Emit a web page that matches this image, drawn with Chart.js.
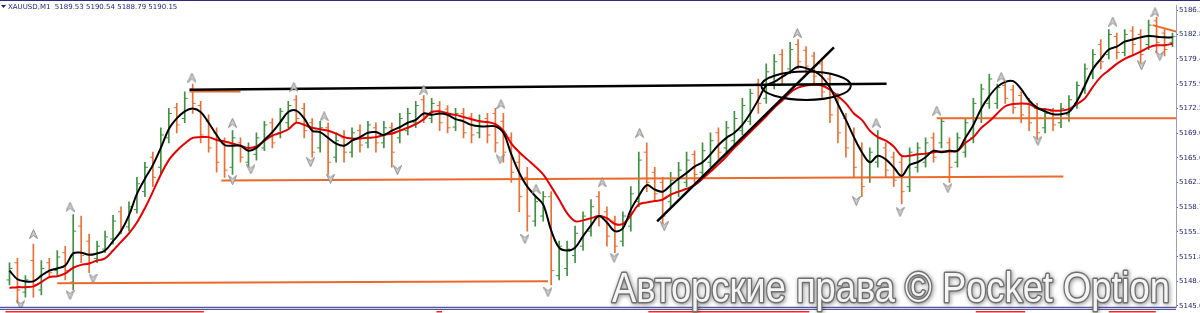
<!DOCTYPE html>
<html lang="ru">
<head>
<meta charset="UTF-8">
<title>XAUUSD M1</title>
<script src="https://cdn.jsdelivr.net/npm/chart.js@4.4.1/dist/chart.umd.min.js"></script>
<style>
  html, body { margin: 0; padding: 0; background: #fff; }
  #wrap { width: 1200px; height: 313px; }
</style>
</head>
<body>
<div id="wrap"><canvas id="chart"></canvas></div>
<script>
// M1 bars (one entry per bar)
const opens = [5148.6,5151.0,5146.9,5151.3,5147.2,5151.0,5149.9,5152.4,5148.3,5156.1,
  5154.0,5151.6,5152.9,5154.3,5158.1,5156.0,5158.4,5160.9,5165.7,5164.3,
  5168.4,5172.6,5171.1,5175.2,5172.9,5170.7,5169.1,5167.7,5164.3,5167.7,
  5165.0,5166.1,5167.0,5170.5,5169.1,5170.5,5173.7,5172.5,5170.5,5167.0,
  5169.8,5165.7,5168.4,5166.4,5169.4,5167.7,5169.8,5167.7,5169.8,5168.4,
  5169.4,5170.5,5173.7,5171.1,5172.9,5172.4,5169.9,5171.8,5171.3,5169.1,
  5171.1,5171.8,5170.7,5168.4,5165.0,5162.9,5156.8,5157.5,5160.2,5149.2,
  5150.2,5152.0,5153.3,5155.4,5160.2,5158.1,5156.8,5154.0,5156.1,5159.5,
  5166.4,5163.6,5162.2,5159.5,5160.9,5162.2,5166.1,5163.6,5165.0,5169.1,
  5167.0,5168.0,5169.4,5170.7,5175.9,5173.9,5175.9,5180.0,5178.0,5181.4,
  5180.6,5179.8,5178.7,5176.6,5173.9,5171.1,5169.1,5167.0,5162.9,5165.0,
  5167.0,5165.7,5165.0,5161.6,5164.3,5165.0,5168.4,5167.7,5167.7,5165.0,
  5166.4,5168.4,5171.1,5173.2,5173.2,5175.7,5175.1,5174.3,5173.2,5172.5,
  5169.8,5172.1,5170.5,5171.6,5173.2,5175.2,5177.3,5181.4,5180.0,5182.5,
  5180.3,5183.3,5182.8,5181.4,5184.7,5183.0,5181.7];
const highs = [5151.0,5151.6,5149.2,5153.6,5151.3,5151.6,5152.7,5153.3,5157.7,5157.5,
  5155.0,5154.0,5155.4,5157.6,5158.8,5159.5,5162.9,5165.0,5166.4,5169.8,
  5172.5,5173.2,5174.8,5175.9,5173.5,5171.6,5169.8,5168.4,5169.4,5168.4,
  5167.7,5169.1,5170.7,5171.1,5172.5,5173.5,5174.3,5173.2,5171.1,5170.7,
  5170.5,5169.1,5169.4,5169.8,5170.2,5170.7,5170.5,5170.7,5170.5,5171.8,
  5172.5,5173.5,5174.3,5173.9,5173.5,5172.9,5172.5,5172.5,5171.8,5171.6,
  5171.8,5172.5,5171.8,5169.1,5166.4,5164.3,5160.2,5160.9,5160.9,5154.0,
  5154.0,5156.1,5158.1,5159.8,5160.9,5158.8,5157.5,5158.1,5161.6,5166.4,
  5167.7,5164.3,5162.9,5163.6,5165.0,5166.4,5166.6,5167.7,5169.1,5169.8,
  5170.7,5172.1,5173.9,5175.2,5176.6,5178.7,5180.0,5180.7,5181.7,5182.1,
  5181.1,5180.3,5179.4,5177.3,5174.6,5171.8,5169.8,5167.7,5167.0,5169.4,
  5167.7,5166.4,5165.7,5167.0,5167.7,5168.4,5169.1,5171.1,5168.4,5169.1,
  5171.1,5173.9,5175.9,5177.3,5175.9,5176.1,5175.7,5174.8,5173.9,5173.2,
  5172.5,5172.5,5173.2,5174.3,5176.2,5178.7,5180.7,5182.1,5183.5,5183.0,
  5183.5,5183.9,5183.5,5184.8,5185.2,5183.5,5183.0];
const lows = [5147.9,5145.4,5146.2,5146.2,5146.5,5149.1,5149.2,5148.6,5147.2,5151.0,
  5149.6,5151.0,5152.4,5153.6,5155.0,5155.4,5157.9,5160.2,5161.6,5163.3,
  5167.7,5169.1,5170.5,5171.8,5167.7,5166.4,5163.6,5162.9,5163.3,5165.0,
  5164.3,5165.3,5166.6,5167.0,5168.4,5169.8,5170.5,5168.4,5165.7,5166.4,
  5163.3,5165.0,5165.0,5165.7,5166.4,5167.0,5166.4,5167.0,5164.3,5167.7,
  5168.8,5169.8,5170.5,5170.5,5169.4,5169.1,5169.4,5168.4,5167.7,5168.4,
  5167.7,5166.4,5165.0,5162.2,5158.1,5155.4,5156.1,5156.8,5147.9,5148.6,
  5149.2,5151.0,5152.7,5154.7,5156.1,5153.3,5152.4,5153.3,5155.4,5158.8,
  5160.9,5159.5,5156.1,5158.8,5160.2,5161.6,5162.2,5162.9,5164.3,5165.3,
  5166.4,5167.4,5168.8,5170.2,5171.8,5173.2,5175.2,5175.9,5177.3,5178.0,
  5177.3,5175.9,5173.9,5170.5,5167.7,5165.7,5162.9,5160.2,5162.2,5164.3,
  5162.9,5161.6,5159.2,5160.9,5163.6,5164.3,5165.0,5167.0,5162.2,5164.3,
  5165.7,5167.7,5170.5,5172.5,5172.5,5173.2,5171.8,5170.5,5169.4,5167.7,
  5169.1,5169.4,5169.8,5170.7,5172.5,5174.6,5176.6,5178.0,5179.4,5179.4,
  5179.8,5180.0,5178.4,5180.7,5180.3,5179.8,5181.1];
const closes = [5150.2,5147.2,5148.6,5147.9,5150.2,5149.6,5151.8,5149.9,5155.4,5152.0,
  5151.0,5153.3,5154.6,5156.8,5156.0,5158.8,5162.0,5164.3,5162.9,5168.8,
  5171.8,5170.2,5173.9,5173.2,5168.8,5167.0,5165.0,5163.9,5168.4,5165.7,
  5167.0,5168.4,5170.2,5167.7,5172.1,5172.9,5171.1,5169.4,5166.4,5169.8,
  5165.0,5168.0,5166.4,5169.1,5167.4,5170.2,5167.7,5169.8,5166.4,5171.1,
  5171.8,5172.9,5171.6,5173.2,5170.5,5169.8,5171.8,5169.1,5168.8,5170.7,
  5168.8,5167.7,5166.4,5163.6,5160.2,5157.5,5159.5,5160.2,5149.9,5153.3,
  5152.9,5155.1,5157.5,5158.8,5157.5,5154.7,5153.3,5157.5,5160.6,5165.3,
  5162.2,5160.6,5157.5,5162.5,5163.9,5165.3,5163.3,5166.6,5168.0,5166.4,
  5169.8,5171.1,5172.9,5174.6,5173.2,5177.6,5179.0,5177.0,5180.7,5179.0,
  5178.4,5177.0,5174.8,5171.6,5169.1,5167.0,5164.3,5161.6,5166.4,5168.4,
  5163.9,5162.5,5160.9,5166.4,5167.0,5167.7,5165.7,5170.7,5164.3,5168.4,
  5170.5,5173.2,5175.2,5176.6,5175.4,5173.9,5172.6,5171.6,5170.5,5169.1,
  5171.8,5170.2,5172.5,5173.7,5175.7,5178.0,5180.0,5179.0,5182.8,5180.3,
  5182.8,5181.4,5180.0,5184.1,5181.7,5180.7,5182.5];

// moving averages (black = fast, red = slow)
const maFast = [5149.9,5148.7,5148.4,5148.4,5149.2,5149.9,5150.2,5150.6,5152.3,5152.4,
  5152.1,5152.3,5152.7,5154.0,5155.4,5157.6,5160.6,5162.7,5164.6,5167.0,
  5169.6,5171.1,5172.1,5172.5,5172.0,5170.5,5168.8,5167.4,5167.3,5167.3,
  5166.6,5167.0,5168.1,5169.2,5170.6,5172.0,5172.2,5171.1,5169.4,5169.2,
  5168.4,5167.6,5167.3,5168.0,5168.5,5169.1,5169.2,5168.8,5169.4,5169.9,
  5170.5,5170.9,5171.8,5171.6,5171.8,5171.6,5171.0,5170.7,5170.2,5170.0,
  5170.0,5170.0,5169.1,5166.1,5163.5,5161.6,5160.3,5159.1,5155.5,5153.1,
  5152.7,5153.1,5154.7,5156.2,5157.5,5156.6,5155.4,5155.8,5158.4,5160.3,
  5161.8,5161.2,5160.9,5161.8,5162.7,5163.5,5164.4,5165.0,5166.1,5167.4,
  5168.4,5169.1,5170.2,5171.8,5173.7,5175.7,5176.2,5176.9,5177.6,5178.3,
  5178.1,5177.7,5176.9,5175.4,5173.1,5170.9,5168.5,5166.4,5165.0,5165.9,
  5165.4,5164.3,5163.1,5164.6,5165.0,5165.7,5166.6,5166.4,5166.6,5166.6,
  5168.4,5170.2,5172.5,5174.2,5175.5,5176.2,5176.3,5175.2,5173.6,5172.6,
  5172.1,5171.7,5171.7,5172.0,5173.5,5175.7,5178.0,5179.4,5180.7,5181.1,
  5181.8,5182.1,5182.4,5182.6,5182.5,5182.4,5182.4];
const maSlow = [5147.5,5147.6,5147.6,5147.7,5148.3,5149.0,5149.1,5149.5,5150.3,5150.7,
  5150.9,5151.3,5151.6,5152.7,5153.9,5155.1,5156.6,5158.6,5160.9,5163.3,
  5165.3,5166.6,5167.6,5168.4,5168.5,5168.5,5168.1,5167.9,5167.6,5167.3,
  5167.0,5167.2,5168.0,5168.7,5169.1,5169.6,5170.5,5170.2,5169.8,5169.6,
  5169.4,5169.0,5168.5,5168.3,5168.3,5168.4,5168.5,5168.8,5169.0,5169.4,
  5169.8,5170.3,5171.0,5172.0,5172.1,5171.8,5171.6,5171.3,5171.0,5170.7,
  5170.6,5170.3,5169.4,5167.6,5166.4,5165.4,5164.4,5163.3,5161.6,5159.8,
  5157.9,5156.8,5156.9,5157.2,5157.5,5157.2,5156.4,5156.4,5157.6,5159.1,
  5159.4,5159.6,5159.8,5160.5,5160.9,5161.3,5161.8,5162.7,5163.7,5164.7,
  5165.8,5167.0,5168.1,5169.2,5170.3,5171.4,5172.6,5173.6,5174.7,5175.4,
  5175.7,5175.8,5175.7,5175.1,5174.2,5173.2,5171.8,5170.9,5169.4,5168.5,
  5168.0,5167.2,5165.9,5165.9,5166.1,5166.2,5166.4,5166.5,5166.5,5166.6,
  5167.7,5168.5,5169.8,5170.7,5171.8,5172.8,5173.1,5173.2,5173.1,5172.5,
  5172.4,5172.2,5172.2,5172.4,5173.1,5173.9,5175.5,5176.9,5177.8,5178.7,
  5179.4,5179.9,5180.4,5181.0,5181.3,5181.3,5181.5];

// fractal arrows: bar position / price
const fractalUpX = [3.0,7.6,22.9,28.0,35.7,39.5,52.0,61.7,66.1,74.4,79.1,98.9,108.8,116.4,124.5,138.5,143.8];
const fractalUpY = [5155.0,5158.8,5176.8,5170.5,5175.5,5171.4,5175.1,5173.1,5161.3,5162.2,5169.1,5183.0,5170.5,5172.2,5176.9,5184.6,5185.9];
const fractalDownX = [1.4,7.6,10.5,28.0,30.3,37.8,40.3,48.7,61.6,64.7,67.6,75.9,82.2,106.3,111.8,117.8,129.1,142.1,144.4];
const fractalDownY = [5145.1,5146.5,5148.8,5162.5,5164.0,5165.0,5162.7,5163.9,5165.4,5154.3,5146.9,5151.7,5156.1,5159.6,5158.1,5161.4,5168.0,5178.5,5179.8];

// hand-drawn objects: [bar0, price0, bar1, price1]
const orangeLevels = [
  [26.6, 5162.45, 132.3, 5163.0],
  [6.0, 5148.15, 67.6, 5148.42],
  [116.4, 5171.14, 146.5, 5171.14],
  [143.5, 5184.1, 146.5, 5183.2],
  [22.6, 5174.85, 29.0, 5174.85]
];
const blackLines = [
  [22.6, 5175.1, 110.1, 5175.95],
  [81.3, 5156.77, 103.5, 5181.0]
];
const ellipse = [100.0, 5175.66, 5.62, 1.98]; // centre bar, centre price, half-width (bars), half-height (price)
const lowerMarks = [[-0.5, 24.4], [53.6, 54.3], [80.2, 100.4], [121.3, 127.5], [138.0, 143.9]];

const yTicks = [5145.0, 5148.4, 5151.8, 5155.3, 5158.7, 5162.2, 5165.6, 5169.0, 5172.5, 5175.9, 5179.4, 5182.8, 5186.2];
const headerText = 'XAUUSD,M1  5189.53 5190.54 5188.79 5190.15';
const watermark = 'Авторские права © Pocket Option';

const GREEN = '#3f913f';
const ORANGE = '#ec6f33';
const barColor = closes.map((c, i) => c >= opens[i] ? GREEN : ORANGE);

function arrowImg(up) {
  const c = document.createElement('canvas');
  c.width = 9; c.height = 10;
  const g = c.getContext('2d');
  if (!up) { g.translate(0, 10); g.scale(1, -1); }
  g.beginPath();
  g.moveTo(4.5, 0.5); g.lineTo(8.5, 9.5); g.lineTo(4.5, 6.5); g.lineTo(0.5, 9.5);
  g.closePath();
  g.fillStyle = '#cfcfcf'; g.fill();
  g.strokeStyle = '#8c8c8c'; g.lineWidth = 1; g.stroke();
  return c;
}

const segDataset = (seg, color, width, order) => ({
  type: 'line',
  data: [{ x: seg[0], y: seg[1] }, { x: seg[2], y: seg[3] }],
  borderColor: color, borderWidth: width, pointRadius: 0, order: order
});

const overlay = {
  id: 'overlay',
  afterDatasetsDraw(chart) {
    const { ctx, scales: { x, y } } = chart;
    const cx = x.getPixelForValue(ellipse[0]), cy = y.getPixelForValue(ellipse[1]);
    ctx.save();
    ctx.beginPath();
    ctx.ellipse(cx, cy, x.getPixelForValue(ellipse[0] + ellipse[2]) - cx,
      y.getPixelForValue(ellipse[1] - ellipse[3]) - cy, 0, 0, Math.PI * 2);
    ctx.lineWidth = 2; ctx.strokeStyle = '#000'; ctx.stroke();
    ctx.restore();
  },
  afterDraw(chart) {
    const { ctx, chartArea: a, scales: { x } } = chart;
    ctx.save();
    // frame lines
    ctx.strokeStyle = '#2b2b80'; ctx.lineWidth = 1;
    ctx.beginPath();
    ctx.moveTo(0, 0.5); ctx.lineTo(chart.width, 0.5);
    ctx.moveTo(0, a.bottom - 0.5); ctx.lineTo(a.right, a.bottom - 0.5);
    ctx.moveTo(0, a.bottom + 1.5); ctx.lineTo(a.right, a.bottom + 1.5);
    ctx.stroke();
    // red strip below
    ctx.strokeStyle = '#ec2a2a'; ctx.lineWidth = 1.5;
    ctx.beginPath();
    lowerMarks.forEach(m => {
      ctx.moveTo(x.getPixelForValue(m[0]), a.bottom + 4);
      ctx.lineTo(x.getPixelForValue(m[1]), a.bottom + 4);
    });
    ctx.stroke();
    // header
    ctx.fillStyle = '#1f1f78';
    ctx.beginPath(); ctx.moveTo(1, 5); ctx.lineTo(6, 5); ctx.lineTo(3.5, 8); ctx.closePath(); ctx.fill();
    ctx.font = '7px "DejaVu Sans", sans-serif';
    ctx.textBaseline = 'alphabetic';
    ctx.fillText(headerText, 8, 9);
    // watermark
    ctx.font = '42px "Liberation Sans", Arial, sans-serif';
    ctx.lineJoin = 'round';
    ctx.shadowColor = 'rgba(0,0,0,0.45)'; ctx.shadowBlur = 4; ctx.shadowOffsetX = 1; ctx.shadowOffsetY = 1;
    ctx.strokeStyle = '#707070'; ctx.lineWidth = 3;
    ctx.strokeText(watermark, 612, 302, 558);
    ctx.shadowColor = 'transparent';
    ctx.fillStyle = '#f5f5f5';
    ctx.fillText(watermark, 612, 302, 558);
    ctx.restore();
  }
};

const datasets = [
  { type: 'scatter', data: fractalUpX.map((v, i) => ({ x: v, y: fractalUpY[i] })), pointStyle: arrowImg(true), order: 0 },
  { type: 'scatter', data: fractalDownX.map((v, i) => ({ x: v, y: fractalDownY[i] })), pointStyle: arrowImg(false), order: 0 }
];
blackLines.forEach(s => datasets.push(segDataset(s, '#000', 2.5, 1)));
datasets.push({ type: 'line', data: maFast.map((v, i) => ({ x: i, y: v })), borderColor: '#000', borderWidth: 2, pointRadius: 0, tension: 0.35, order: 2 });
datasets.push({ type: 'line', data: maSlow.map((v, i) => ({ x: i, y: v })), borderColor: '#e60000', borderWidth: 2, pointRadius: 0, tension: 0.35, order: 3 });
orangeLevels.forEach(s => datasets.push(segDataset(s, '#ea6a2c', 2, 4)));
datasets.push({ type: 'scatter', data: opens.map((v, i) => ({ x: i - 0.19, y: v })), pointStyle: 'line', pointRadius: 1.5, pointBorderWidth: 1, pointBorderColor: barColor, order: 5 });
datasets.push({ type: 'scatter', data: closes.map((v, i) => ({ x: i + 0.19, y: v })), pointStyle: 'line', pointRadius: 1.5, pointBorderWidth: 1, pointBorderColor: barColor, order: 5 });
datasets.push({ type: 'bar', data: highs.map((h, i) => ({ x: i, y: [lows[i], h] })), backgroundColor: barColor, barThickness: 1, grouped: false, order: 6 });

new Chart(document.getElementById('chart'), {
  type: 'bar',
  data: { datasets: datasets },
  options: {
    responsive: true,
    maintainAspectRatio: false,
    animation: false,
    layout: { padding: { top: 0, bottom: 5, left: 0, right: 0 } },
    plugins: { legend: { display: false }, tooltip: { enabled: false } },
    scales: {
      x: { type: 'linear', offset: false, min: -0.5625, max: 146.4375, display: false },
      y: {
        position: 'right',
        min: 5144.72, max: 5186.88,
        afterBuildTicks: s => { s.ticks = yTicks.map(v => ({ value: v })); },
        afterFit: s => { s.width = 24; },
        ticks: { padding: 1, color: '#1c1c70', font: { family: 'DejaVu Sans', size: 7 }, callback: v => v.toFixed(1) },
        grid: { drawOnChartArea: false, tickLength: 2, color: '#5a5aa0' },
        border: { color: '#9a9acc' }
      }
    }
  },
  plugins: [overlay]
});
</script>
</body>
</html>
